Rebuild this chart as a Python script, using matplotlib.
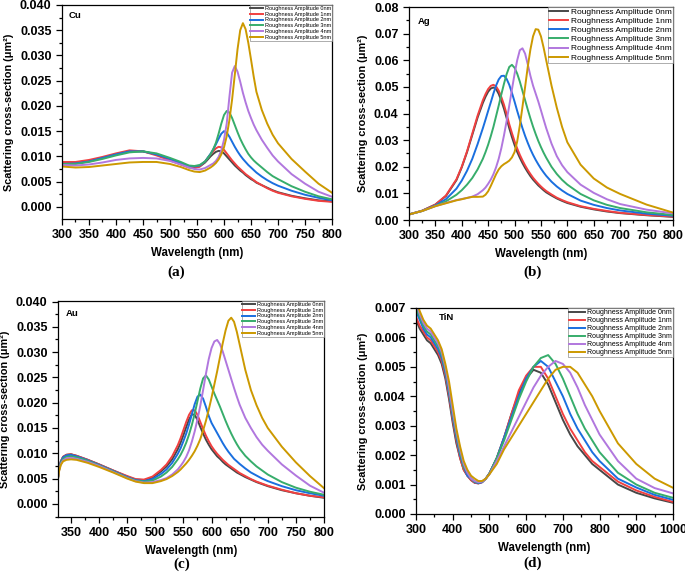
import matplotlib
matplotlib.use('Agg')
import matplotlib.pyplot as plt
from matplotlib.ticker import MultipleLocator, FormatStrFormatter

plt.rcParams['font.family'] = ['Liberation Sans', 'DejaVu Sans']

labels = ['Roughness Amplitude 0nm', 'Roughness Amplitude 1nm', 'Roughness Amplitude 2nm',
          'Roughness Amplitude 3nm', 'Roughness Amplitude 4nm', 'Roughness Amplitude 5nm']
colors = ['#474747', '#f14040', '#1a6fdf', '#37ad6b', '#b177de', '#cc9900']

# Cu
cu_wl = [300, 325, 350, 375, 400, 425, 450, 475, 500, 520, 535, 545, 555, 565, 575,
         580, 585, 590, 595, 600, 605, 610, 615, 620, 625, 630, 635, 640, 645, 650, 655, 660,
         670, 680, 690, 700, 725, 750, 775, 800]
cu_0 = [.0088, .0088, .0091, .0097, .0104, .0110, .0110, .0104, .0094, .0085, .0079, .0078, .0080, .0088, .0100,
        .0105, .0109, .0111, .0110, .0106, .0100, .0094, .0088, .0082, .0077, .0072, .0068, .0063, .0059, .0055,
        .0052, .0048, .0043, .0038, .0033, .0029, .0022, .0017, .0013, .0011]
cu_1 = [.0089, .0089, .0093, .0099, .0106, .0112, .0110, .0102, .0092, .0084, .0078, .0077, .0080, .0090, .0104,
        .0110, .0116, .0119, .0118, .0113, .0106, .0099, .0092, .0086, .0080, .0075, .0070, .0065, .0061, .0057,
        .0053, .0049, .0043, .0037, .0032, .0028, .0021, .0016, .0012, .0010]
cu_2 = [.0085, .0086, .0090, .0097, .0104, .0110, .0110, .0104, .0095, .0087, .0081, .0080, .0082, .0090, .0105,
        .0114, .0124, .0135, .0145, .0150, .0147, .0139, .0129, .0119, .0110, .0102, .0095, .0089, .0083, .0078,
        .0073, .0068, .0060, .0053, .0047, .0042, .0032, .0024, .0018, .0013]
cu_3 = [.0085, .0085, .0089, .0095, .0102, .0108, .0110, .0106, .0097, .0089, .0082, .0081, .0083, .0090, .0104,
        .0114, .0127, .0145, .0165, .0182, .0190, .0187, .0176, .0162, .0148, .0135, .0124, .0114, .0105, .0098,
        .0092, .0087, .0078, .0069, .0061, .0055, .0041, .0030, .0021, .0015]
cu_4 = [.0083, .0082, .0084, .0088, .0093, .0096, .0097, .0096, .0091, .0084, .0078, .0075, .0074, .0077, .0083,
        .0086, .0091, .0099, .0112, .0133, .0165, .0218, .0266, .0279, .0268, .0248, .0226, .0207, .0190, .0176,
        .0163, .0152, .0133, .0117, .0102, .0090, .0065, .0046, .0030, .0020]
cu_5 = [.0080, .0078, .0079, .0082, .0085, .0088, .0089, .0089, .0085, .0079, .0073, .0070, .0069, .0072, .0078,
        .0082, .0087, .0094, .0104, .0118, .0140, .0172, .0213, .0262, .0312, .0350, .0364, .0352, .0325, .0292,
        .0258, .0228, .0192, .0165, .0143, .0126, .0095, .0070, .0046, .0028]

# Ag
ag_wl = [300, 325, 350, 370, 390, 400, 410, 420, 430, 440,
         445, 450, 455, 460, 465, 470, 475, 480, 485, 490, 495, 500, 505, 510, 515, 520, 525, 530,
         535, 540, 545, 550, 555, 560, 570, 580, 590, 600, 625, 650, 675, 700, 750, 800]
ag_0 = [.0021, .0035, .0058, .0090, .0150, .0198, .0255, .0320, .0385, .0440,
        .0463, .0482, .0494, .0498, .0492, .0474, .0448, .0418, .0383, .0345, .0312, .0282, .0256, .0234,
        .0214, .0196, .0180, .0165, .0152, .0141, .0130, .0121, .0112, .0104,
        .0092, .0081, .0072, .0064, .0050, .0040, .0032, .0026, .0018, .0012]
ag_1 = [.0021, .0035, .0058, .0092, .0153, .0200, .0258, .0325, .0392, .0450,
        .0473, .0492, .0504, .0508, .0502, .0486, .0462, .0433, .0398, .0360, .0327, .0296, .0269, .0245,
        .0224, .0205, .0188, .0173, .0159, .0147, .0136, .0126, .0117, .0109,
        .0096, .0084, .0075, .0067, .0052, .0042, .0034, .0027, .0019, .0013]
ag_2 = [.0021, .0034, .0055, .0078, .0118, .0148, .0185, .0230, .0285, .0345,
        .0377, .0410, .0442, .0475, .0505, .0528, .0541, .0542, .0530, .0508, .0478, .0445, .0410, .0377,
        .0345, .0316, .0290, .0266, .0245, .0226, .0209, .0193, .0179, .0166,
        .0144, .0126, .0111, .0098, .0073, .0057, .0045, .0036, .0024, .0016]
ag_3 = [.0021, .0034, .0053, .0070, .0095, .0112, .0133, .0158, .0190, .0230,
        .0255, .0283, .0315, .0350, .0390, .0430, .0472, .0512, .0548, .0575, .0583, .0572, .0550, .0520,
        .0485, .0450, .0415, .0382, .0351, .0323, .0297, .0274, .0253, .0234,
        .0200, .0173, .0151, .0133, .0098, .0074, .0057, .0045, .0029, .0019]
ag_4 = [.0021, .0034, .0052, .0064, .0075, .0079, .0083, .0088, .0097, .0112,
        .0122, .0136, .0152, .0172, .0198, .0230, .0270, .0318, .0372, .0430, .0490, .0548, .0600, .0638,
        .0645, .0625, .0585, .0542, .0505, .0475, .0445, .0412, .0378, .0345,
        .0287, .0240, .0206, .0180, .0133, .0102, .0078, .0060, .0039, .0025]
ag_5 = [.0021, .0034, .0052, .0063, .0074, .0078, .0083, .0087, .0087, .0088,
        .0095, .0108, .0128, .0150, .0172, .0190, .0202, .0210, .0216, .0223, .0235, .0255, .0295, .0355,
        .0425, .0500, .0575, .0640, .0690, .0717, .0715, .0690, .0648, .0600,
        .0505, .0422, .0350, .0292, .0208, .0156, .0122, .0098, .0058, .0028]

# Au
au_wl = [327, 329, 332, 336, 342, 350, 360, 380, 400, 425, 450, 465, 480, 495, 510, 520, 530, 540,
         545, 550, 555, 560, 565, 570, 575, 580, 585, 590, 595, 600, 605, 610, 615, 620, 625, 630,
         635, 640, 645, 650, 660, 670, 680, 690, 700, 725, 750, 775, 800]
au_0 = [.0052, .0070, .0084, .0093, .0097, .0098, .0095, .0087, .0078, .0066, .0054, .0048, .0047, .0052,
        .0064, .0074, .0088, .0108,
        .0121, .0136, .0152, .0167, .0177, .0176, .0166, .0152, .0139, .0127, .0117, .0108, .0101, .0094,
        .0089, .0083, .0078, .0074, .0070, .0066, .0062, .0059,
        .0053, .0048, .0043, .0039, .0035, .0027, .0021, .0016, .0012]
au_1 = [.0052, .0070, .0084, .0093, .0097, .0098, .0095, .0087, .0078, .0066, .0055, .0049, .0048, .0054,
        .0067, .0078, .0094, .0116,
        .0130, .0146, .0162, .0176, .0185, .0185, .0176, .0162, .0148, .0135, .0124, .0114, .0106, .0099,
        .0093, .0087, .0082, .0077, .0073, .0069, .0065, .0061,
        .0055, .0049, .0044, .0040, .0036, .0028, .0021, .0016, .0013]
au_2 = [.0052, .0069, .0083, .0092, .0096, .0097, .0094, .0086, .0077, .0065, .0053, .0047, .0045, .0049,
        .0059, .0068, .0081, .0099,
        .0110, .0124, .0139, .0157, .0177, .0197, .0212, .0216, .0208, .0192, .0174, .0160, .0150, .0140,
        .0130, .0120, .0111, .0103, .0096, .0089, .0084, .0079,
        .0070, .0062, .0056, .0050, .0045, .0035, .0027, .0021, .0016]
au_3 = [.0051, .0068, .0081, .0089, .0093, .0094, .0092, .0085, .0076, .0064, .0052, .0046, .0044, .0046,
        .0054, .0062, .0073, .0088,
        .0097, .0108, .0121, .0137, .0156, .0178, .0203, .0228, .0248, .0254, .0246, .0232, .0218, .0205,
        .0192, .0178, .0164, .0151, .0139, .0128, .0118, .0109,
        .0095, .0084, .0074, .0066, .0058, .0043, .0032, .0024, .0018]
au_4 = [.0050, .0066, .0079, .0086, .0090, .0091, .0089, .0083, .0075, .0063, .0051, .0045, .0042, .0043,
        .0047, .0051, .0058, .0068,
        .0075, .0083, .0093, .0106, .0123, .0143, .0167, .0194, .0225, .0257, .0286, .0308, .0321, .0324,
        .0316, .0301, .0283, .0265, .0247, .0229, .0212, .0196,
        .0170, .0150, .0132, .0117, .0105, .0078, .0056, .0036, .0022]
au_5 = [.0050, .0065, .0077, .0084, .0087, .0088, .0087, .0081, .0073, .0062, .0050, .0044, .0041, .0041,
        .0045, .0049, .0055, .0063,
        .0068, .0074, .0080, .0087, .0095, .0104, .0115, .0128, .0145, .0164, .0186, .0210, .0236, .0262,
        .0290, .0318, .0343, .0362, .0368, .0360, .0340, .0315,
        .0265, .0225, .0195, .0170, .0150, .0113, .0082, .0055, .0031]

# TiN
tin_wl = [300, 310, 320, 330, 340, 350, 360, 370, 380, 390, 400, 410, 420, 430, 440, 450, 460, 470,
          480, 490, 500, 520, 540, 560, 580, 600, 620, 640, 660, 680, 700, 720, 740, 760, 780, 800,
          850, 900, 950, 1000]
tin_0 = [.0066, .0063, .0061, .0059, .0058, .0056, .0054, .0051, .0046, .0039, .0031, .0024, .0019, .0015,
         .0013, .00115, .00106, .00104, .00108, .0012, .00138, .0019, .0026, .0034, .0041, .0046, .0049,
         .0048, .0044, .0038, .0032, .0027, .0023, .0020, .0017, .0015, .0010, .00072, .00053, .00038]
tin_1 = [.0067, .0064, .0062, .0060, .0059, .0057, .0055, .0052, .0047, .0040, .0032, .0025, .0019, .0015,
         .0013, .00115, .00106, .00104, .00108, .0012, .00138, .0019, .0026, .0034, .0042, .0047, .0050,
         .0050, .0046, .0040, .0034, .0029, .0025, .0021, .0018, .0016, .0011, .0008, .00058, .00041]
tin_2 = [.0069, .0066, .0063, .0061, .0060, .0058, .0056, .0053, .0048, .0041, .0033, .0026, .0020, .0016,
         .0013, .0012, .00108, .00105, .00108, .0012, .00138, .0019, .0026, .0033, .0040, .0046, .0050,
         .0052, .0050, .0045, .0040, .0034, .0029, .0025, .0021, .0018, .0012, .0009, .00065, .00048]
tin_3 = [.0070, .0067, .0064, .0062, .0061, .0059, .0057, .0054, .0049, .0042, .0034, .0027, .0021, .0016,
         .0014, .0012, .0011, .00107, .0011, .0012, .00137, .0019, .0025, .0032, .0039, .0045, .0050,
         .0053, .0054, .0051, .0046, .0040, .0034, .0029, .0025, .0021, .0014, .0010, .00072, .00055]
tin_4 = [.0072, .0068, .0065, .0063, .0062, .0060, .0058, .0055, .0050, .0043, .0035, .0028, .0022, .0017,
         .0014, .0012, .00112, .00108, .0011, .0012, .00135, .0018, .0023, .0028, .0033, .0038, .0043,
         .0047, .0050, .0052, .0051, .0048, .0043, .0037, .0032, .0027, .0018, .0012, .00088, .0007]
tin_5 = [.0073, .0069, .0066, .0064, .0063, .0061, .0059, .0056, .0051, .0045, .0037, .0029, .0023, .0018,
         .0015, .0013, .0012, .00112, .00112, .0012, .00135, .0017, .0022, .0026, .0030, .0034, .0038,
         .0042, .0046, .0049, .00500, .00500, .0048, .0044, .0040, .0035, .0024, .0017, .0012, .00089]


def panel(rect, wl, series, name, name_xy, xlim, ylim, xmaj, ymaj, yfmt, leg_fs, tag, tag_xy):
    ax = fig.add_axes(rect)
    for y, c, lab in zip(series, colors, labels):
        ax.plot(wl, y, color=c, lw=1.4, label=lab)
    ax.set_xlim(*xlim)
    ax.set_ylim(*ylim)
    ax.xaxis.set_major_locator(MultipleLocator(xmaj))
    ax.xaxis.set_minor_locator(MultipleLocator(xmaj / 2))
    ax.yaxis.set_major_locator(MultipleLocator(ymaj))
    ax.yaxis.set_minor_locator(MultipleLocator(ymaj / 2))
    ax.yaxis.set_major_formatter(FormatStrFormatter(yfmt))
    ax.tick_params(which='both', direction='out', top=False, right=False, width=0.9)
    ax.tick_params(which='major', length=4, labelsize=9)
    ax.tick_params(which='minor', length=2)
    for t in ax.get_xticklabels() + ax.get_yticklabels():
        t.set_fontweight('bold')
    for s in ax.spines.values():
        s.set_linewidth(0.9)
    ax.set_xlabel('Wavelength (nm)', fontsize=8.3, fontweight='bold', labelpad=4)
    ax.set_ylabel('Scattering cross-section (μm²)', fontsize=7.8, fontweight='bold', labelpad=4)
    ax.text(name_xy[0], name_xy[1], name, transform=ax.transAxes, fontsize=6.8, fontweight='bold',
            va='center')
    leg = ax.legend(loc='upper right', fontsize=leg_fs, borderaxespad=0, frameon=True, fancybox=False,
                    handlelength=2.3, handletextpad=0.3, labelspacing=0.15, borderpad=0.15)
    leg.get_frame().set_edgecolor('#888888')
    leg.get_frame().set_linewidth(0.6)
    fig.text(tag_xy[0], tag_xy[1], tag, fontsize=11, fontweight='bold', family='Liberation Serif',
             ha='center', va='center')
    return ax


fig = plt.figure(figsize=(6.85, 5.73), dpi=100)

panel([0.0905, 0.6178, 0.3942, 0.3735], cu_wl, [cu_0, cu_1, cu_2, cu_3, cu_4, cu_5], 'Cu', (0.026, 0.953),
      (300, 800), (-0.0024, 0.040), 50, 0.005, '%.3f', 4.0, '(a)', (176 / 685, 1 - 272 / 573))
panel([0.597, 0.616, 0.3854, 0.3717], ag_wl, [ag_0, ag_1, ag_2, ag_3, ag_4, ag_5], 'Ag', (0.034, 0.934),
      (300, 800), (0, 0.08), 50, 0.01, '%.2f', 6.0, '(b)', (533 / 685, 1 - 272 / 573))
panel([0.0847, 0.0977, 0.3883, 0.377], au_wl, [au_0, au_1, au_2, au_3, au_4, au_5], 'Au', (0.03, 0.94),
      (327, 800), (-0.0026, 0.0401), 50, 0.005, '%.3f', 4.0, '(c)', (182 / 685, 1 - 564 / 573))
panel([0.6073, 0.103, 0.3752, 0.3595], tin_wl, [tin_0, tin_1, tin_2, tin_3, tin_4, tin_5], 'TiN', (0.09, 0.956),
      (300, 1000), (0, 0.007), 100, 0.001, '%.3f', 5.0, '(d)', (533 / 685, 1 - 563 / 573))

fig.savefig('out.png', dpi=100)
